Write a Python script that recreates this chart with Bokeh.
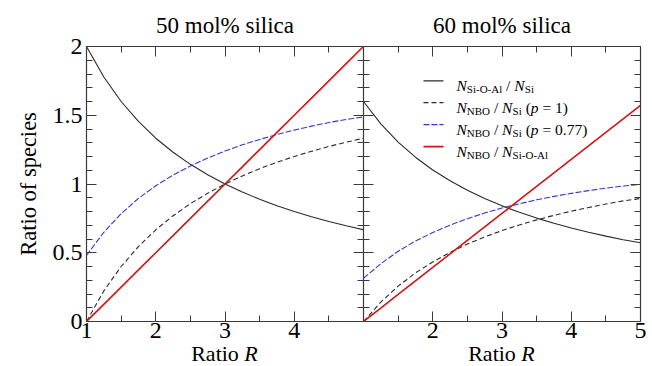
from bokeh.plotting import figure
from bokeh.layouts import row, column
from bokeh.models import Range1d, LinearAxis, FixedTicker, Label, Title, Div
from bokeh.embed import file_html
from bokeh.resources import INLINE

# ---------------- data ----------------
R = [1.0, 1.25, 1.5, 1.75, 2.0, 2.25, 2.5, 2.75, 3.0, 3.25, 3.5, 3.75, 4.0, 4.25, 4.5, 4.75, 5.0]

# 50 mol% silica
sioal_50 = [2.0, 1.778, 1.6, 1.455, 1.333, 1.231, 1.143, 1.067, 1.0, 0.941, 0.889, 0.842, 0.8, 0.762, 0.727, 0.696, 0.667]
nbo_p1_50 = [0.0, 0.222, 0.4, 0.545, 0.667, 0.769, 0.857, 0.933, 1.0, 1.059, 1.111, 1.158, 1.2, 1.238, 1.273, 1.304, 1.333]
nbo_p077_50 = [0.48, 0.649, 0.784, 0.895, 0.987, 1.065, 1.131, 1.189, 1.24, 1.285, 1.324, 1.36, 1.392, 1.421, 1.447, 1.469, 1.488]
nbo_sioal_50 = [0.0, 0.125, 0.25, 0.375, 0.5, 0.625, 0.75, 0.875, 1.0, 1.125, 1.25, 1.375, 1.5, 1.625, 1.75, 1.875, 2.0]

# 60 mol% silica
sioal_60 = [1.6, 1.437, 1.305, 1.195, 1.102, 1.023, 0.954, 0.894, 0.841, 0.794, 0.752, 0.714, 0.68, 0.649, 0.621, 0.595, 0.573]
nbo_p1_60 = [0.0, 0.141, 0.257, 0.353, 0.433, 0.502, 0.563, 0.615, 0.661, 0.702, 0.739, 0.772, 0.802, 0.829, 0.854, 0.877, 0.895]
nbo_p077_60 = [0.315, 0.42, 0.511, 0.585, 0.647, 0.701, 0.748, 0.789, 0.825, 0.856, 0.885, 0.91, 0.932, 0.952, 0.97, 0.985, 0.998]
nbo_sioal_60 = [0.0, 0.098, 0.197, 0.295, 0.393, 0.491, 0.59, 0.688, 0.786, 0.884, 0.983, 1.081, 1.179, 1.277, 1.376, 1.474, 1.572]

titles = ["50 mol% silica", "60 mol% silica"]
x_label_html = "Ratio <i>R</i>"
y_label = "Ratio of species"
y_ticks = [0, 0.5, 1, 1.5, 2]
y_tick_labels = ["0", "0.5", "1", "1.5", "2"]
y_minor = [0.1, 0.2, 0.3, 0.4, 0.6, 0.7, 0.8, 0.9, 1.1, 1.2, 1.3, 1.4, 1.6, 1.7, 1.8, 1.9]
x_ticks_left = [1, 2, 3, 4]
x_ticks_right = [2, 3, 4, 5]
x_minor = [1.5, 2.5, 3.5, 4.5]

# ---------------- styles ----------------
FONT = "Liberation Serif"
AX = "#3a3a3a"
BLACK = "#2a2a2a"
BLUE = "#3535d0"
RED = "#d01515"
styles = {
    "sioal": dict(line_color=BLACK, line_width=1.1),
    "p1": dict(line_color=BLACK, line_width=1.1, line_dash="5 3"),
    "p077": dict(line_color=BLUE, line_width=1.1, line_dash="6 2"),
    "nbo_sioal": dict(line_color=RED, line_width=1.6),
}

FIG_H = 349
TOP, BOTTOM = 46, 28
XLAB_H = 17
TICK_FS = "24px"


def style_axis(ax, ticks, minor, labels=None, show=True, standoff=5):
    ax.ticker = FixedTicker(ticks=ticks, minor_ticks=minor)
    ax.axis_line_color = AX
    ax.axis_line_width = 1.2
    ax.major_tick_line_color = AX
    ax.minor_tick_line_color = AX
    ax.major_tick_in = 10
    ax.major_tick_out = 0
    ax.minor_tick_in = 6
    ax.minor_tick_out = 0
    if show:
        ax.major_label_text_font = FONT
        ax.major_label_text_font_size = TICK_FS
        ax.major_label_text_color = "black"
        ax.major_label_standoff = standoff
        if labels:
            ax.major_label_overrides = labels
    else:
        ax.major_label_overrides = {t: "" for t in ticks}
        ax.major_label_text_font_size = "1px"
        ax.major_label_standoff = 0


def make_panel(width, bl, br, series, title, xticks, show_y):
    p = figure(width=width, height=FIG_H, x_range=Range1d(1, 5), y_range=Range1d(0, 2),
               output_backend="svg", toolbar_location=None, x_axis_location=None,
               y_axis_location=None, min_border_left=bl, min_border_right=br,
               min_border_top=TOP, min_border_bottom=BOTTOM)
    p.outline_line_color = None
    p.xgrid.visible = False
    p.ygrid.visible = False
    p.background_fill_color = "white"
    p.border_fill_color = "white"

    ylab = {t: l for t, l in zip(y_ticks, y_tick_labels)}
    left = LinearAxis()
    style_axis(left, y_ticks, y_minor, ylab, show=show_y, standoff=4)
    if show_y:
        left.axis_label = y_label
        left.axis_label_text_font = FONT
        left.axis_label_text_font_size = "22.5px"
        left.axis_label_text_font_style = "normal"
        left.axis_label_text_color = "black"
        left.axis_label_standoff = 9
    p.add_layout(left, "left")
    right = LinearAxis()
    style_axis(right, y_ticks, y_minor, show=False)
    p.add_layout(right, "right")
    below = LinearAxis()
    style_axis(below, xticks, x_minor, {t: str(t) for t in xticks}, standoff=1)
    p.add_layout(below, "below")
    above = LinearAxis()
    style_axis(above, xticks, x_minor, show=False)
    p.add_layout(above, "above")

    for key in ["sioal", "p1", "p077", "nbo_sioal"]:
        p.line(R, series[key], **styles[key])

    t = Title(text=title, align="center", text_font=FONT, text_font_size="23px",
              text_font_style="normal", text_color="black", standoff=17)
    p.add_layout(t, "above")
    return p


left_p = make_panel(363, 86, 0,
                    {"sioal": sioal_50, "p1": nbo_p1_50, "p077": nbo_p077_50, "nbo_sioal": nbo_sioal_50},
                    titles[0], x_ticks_left, True)
right_p = make_panel(289, 0, 12,
                     {"sioal": sioal_60, "p1": nbo_p1_60, "p077": nbo_p077_60, "nbo_sioal": nbo_sioal_60},
                     titles[1], x_ticks_right, False)

# ---------------- legend (manual, with subscripts) ----------------
leg_keys = ["sioal", "p1", "p077", "nbo_sioal"]
leg_rows_y = [1.750, 1.592, 1.432, 1.272]
LX0, LX1, TX = 1.866, 2.155, 2.343
MAIN, SUB = "15.5px", "11px"

# pieces: (text, offset_px, kind) kind: n=normal, i=italic, s=subscript
leg_pieces = [
    [("N", 0, "i"), ("Si-O-Al", 10.3, "s"), ("/", 49.6, "n"), ("N", 57.8, "i"), ("Si", 68.3, "s")],
    [("N", 0, "i"), ("NBO", 10.3, "s"), ("/", 37.4, "n"), ("N", 45.6, "i"), ("Si", 56.1, "s"),
     ("(", 69.2, "n"), ("p", 74.3, "i"), ("= 1)", 85.9, "n")],
    [("N", 0, "i"), ("NBO", 10.3, "s"), ("/", 37.4, "n"), ("N", 45.6, "i"), ("Si", 56.1, "s"),
     ("(", 69.2, "n"), ("p", 74.3, "i"), ("= 0.77)", 85.9, "n")],
    [("N", 0, "i"), ("NBO", 10.3, "s"), ("/", 37.4, "n"), ("N", 45.6, "i"), ("Si-O-Al", 56.1, "s")],
]

for key, yrow, pieces in zip(leg_keys, leg_rows_y, leg_pieces):
    right_p.segment(x0=[LX0], y0=[yrow], x1=[LX1], y1=[yrow], **styles[key])
    for txt, off, kind in pieces:
        right_p.add_layout(Label(
            x=TX, y=yrow, x_offset=off, y_offset=(-8 if kind == "s" else -4.5), text=txt,
            text_align="left", text_baseline="alphabetic", text_font=FONT,
            text_font_size=(SUB if kind == "s" else MAIN),
            text_font_style=("italic" if kind == "i" else "normal"), text_color="black"))


# ---------------- x axis labels ("Ratio R", R in italics) ----------------
def xlabel_div(width, pad_left, frame_w):
    html = ('<div style="margin-left:%dpx;width:%dpx;text-align:center;'
            'font-family:\'Liberation Serif\';font-size:22px;line-height:9px;'
            'color:black;white-space:nowrap;">%s</div>' % (pad_left, frame_w, x_label_html))
    return Div(text=html, width=width, height=XLAB_H, margin=0)


xl_left = xlabel_div(363, 86, 277)
xl_right = xlabel_div(289, 0, 277)

layout = column(row(left_p, right_p, spacing=0), row(xl_left, xl_right, spacing=0), spacing=0)
open("out.html", "w").write(file_html(layout, INLINE))
